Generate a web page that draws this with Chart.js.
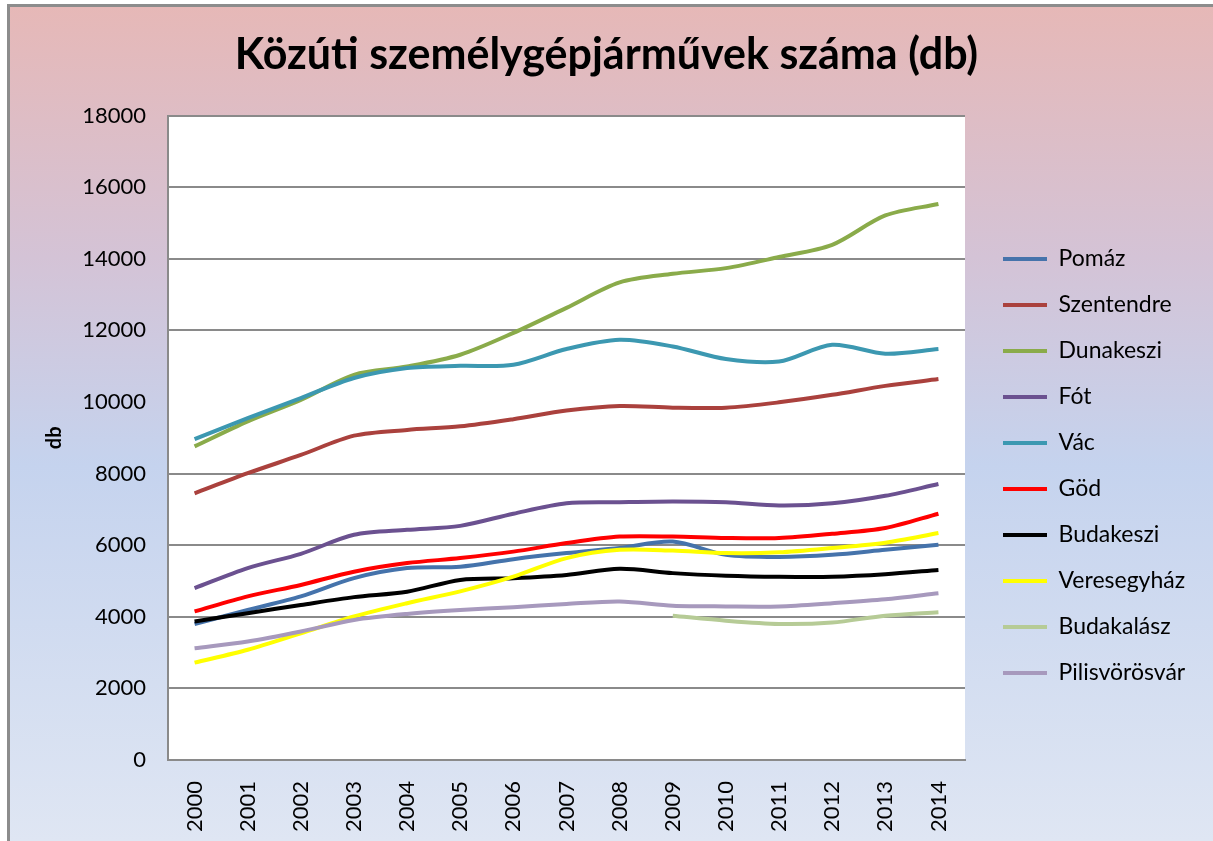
<!DOCTYPE html>
<html lang="hu">
<head>
<meta charset="utf-8">
<title>Közúti személygépjárművek száma</title>
<script src="https://cdn.jsdelivr.net/npm/chart.js@4.4.1/dist/chart.umd.min.js"></script>
<style>
  html, body { margin: 0; padding: 0; background: #fff; }
  #keret {
    position: absolute; left: 7px; top: 4px; right: 0; bottom: 0;
    border-left: 3px solid #8c8c8c; border-top: 3px solid #8c8c8c;
    background: linear-gradient(180deg, #e6b8b7 0%, #d4c3d6 30%, #c5d3ee 55%, #dfe6f3 100%);
  }
  #doboz { position: absolute; left: 0; top: 0; width: 1213px; height: 841px; }
</style>
</head>
<body>
<div id="keret"></div>
<div id="doboz"><canvas id="grafikon"></canvas></div>
<script>
// évek és értékek (db)
const evek = ['2000', '2001', '2002', '2003', '2004', '2005', '2006', '2007', '2008', '2009', '2010', '2011', '2012', '2013', '2014'];
const pomaz = [3800, 4190, 4570, 5080, 5360, 5400, 5610, 5780, 5920, 6100, 5730, 5670, 5730, 5870, 6010];
const szentendre = [7450, 8010, 8520, 9060, 9220, 9320, 9520, 9760, 9890, 9840, 9840, 9990, 10200, 10450, 10640];
const dunakeszi = [8760, 9460, 10060, 10760, 10990, 11320, 11930, 12630, 13340, 13580, 13740, 14050, 14390, 15210, 15530];
const fot = [4800, 5360, 5760, 6290, 6430, 6540, 6880, 7170, 7200, 7220, 7200, 7110, 7170, 7380, 7710];
const vac = [8960, 9550, 10110, 10670, 10950, 11010, 11040, 11480, 11740, 11550, 11200, 11130, 11600, 11350, 11480];
const god = [4150, 4570, 4890, 5260, 5500, 5640, 5820, 6060, 6240, 6240, 6200, 6200, 6320, 6480, 6880];
const budakeszi = [3870, 4100, 4330, 4550, 4700, 5030, 5080, 5170, 5340, 5220, 5150, 5120, 5120, 5190, 5310];
const veresegyhaz = [2720, 3080, 3540, 4010, 4380, 4710, 5120, 5640, 5870, 5850, 5780, 5800, 5920, 6070, 6340];
const budakalasz = [null, null, null, null, null, null, null, null, null, 4030, 3890, 3800, 3840, 4030, 4130];
const pilisvorosvar = [3120, 3310, 3590, 3910, 4080, 4190, 4270, 4360, 4430, 4310, 4290, 4290, 4380, 4490, 4660];

const yTicks = [0, 2000, 4000, 6000, 8000, 10000, 12000, 14000, 16000, 18000];

const sorozatok = [
  { nev: 'Pomáz', adat: pomaz, szin: '#4573ab' },
  { nev: 'Szentendre', adat: szentendre, szin: '#aa413d' },
  { nev: 'Dunakeszi', adat: dunakeszi, szin: '#8aab4a' },
  { nev: 'Fót', adat: fot, szin: '#6b5190' },
  { nev: 'Vác', adat: vac, szin: '#3c98b1' },
  { nev: 'Göd', adat: god, szin: '#ff0000' },
  { nev: 'Budakeszi', adat: budakeszi, szin: '#000000' },
  { nev: 'Veresegyház', adat: veresegyhaz, szin: '#ffff00' },
  { nev: 'Budakalász', adat: budakalasz, szin: '#b6cb96' },
  { nev: 'Pilisvörösvár', adat: pilisvorosvar, szin: '#a799bd' }
];

const racsSzin = '#8a8a8a';
const jelmagyarazatSzelesseg = 233;

// fehér rajzterület a vonalak alatt
const rajzHatter = {
  id: 'rajzHatter',
  beforeDraw(chart) {
    const { ctx, chartArea } = chart;
    ctx.save();
    ctx.fillStyle = '#ffffff';
    ctx.fillRect(chartArea.left, chartArea.top, chartArea.right - chartArea.left, chartArea.bottom - chartArea.top);
    ctx.restore();
  }
};

// a jelmagyarázat fix szélességet kap, hogy a szöveg ne vágódjon le
const jelmagyarazatSzeles = {
  id: 'jelmagyarazatSzeles',
  beforeLayout(chart) {
    const lg = chart.legend;
    if (lg && !lg._fixSzeles) {
      const eredeti = lg.fit.bind(lg);
      lg.fit = function () { eredeti(); this.width = jelmagyarazatSzelesseg; };
      lg._fixSzeles = true;
    }
  }
};

Chart.defaults.font.family = 'Lato, "Open Sans", sans-serif';
Chart.defaults.color = '#000';

new Chart(document.getElementById('grafikon'), {
  type: 'line',
  data: {
    labels: evek,
    datasets: sorozatok.map((s, i) => ({
      label: s.nev,
      data: s.adat,
      borderColor: s.szin,
      backgroundColor: s.szin,
      borderWidth: 4,
      pointRadius: 0,
      tension: 0.3,
      spanGaps: false,
      order: sorozatok.length - i
    }))
  },
  options: {
    responsive: true,
    maintainAspectRatio: false,
    animation: false,
    layout: { padding: 0 },
    plugins: {
      title: {
        display: true,
        text: 'Közúti személygépjárművek száma (db)',
        font: { size: 43, weight: 'bold' },
        color: '#000',
        padding: { top: 29, bottom: 35 }
      },
      legend: {
        position: 'right',
        fullSize: false,
        reverse: true,
        title: { display: true, text: ' ', font: { size: 12 }, padding: { top: 42, bottom: 0 } },
        labels: {
          boxWidth: 44,
          boxHeight: 4,
          padding: 23,
          font: { size: 23 },
          color: '#000',
          generateLabels(chart) {
            return Chart.defaults.plugins.legend.labels.generateLabels(chart).map(it => ({ ...it, lineWidth: 0 }));
          }
        }
      },
      tooltip: { enabled: false }
    },
    scales: {
      x: {
        offset: true,
        grid: { display: false },
        border: { display: true, color: racsSzin, width: 2 },
        ticks: { minRotation: 90, maxRotation: 90, padding: 13, font: { size: 22 } },
        afterFit(scale) { scale.height = 81; }
      },
      y: {
        min: 0,
        max: 18000,
        afterBuildTicks(scale) { scale.ticks = yTicks.map(v => ({ value: v })); },
        grid: {
          drawTicks: false,
          lineWidth: 2,
          color: c => (c.tick && c.tick.value === 10000 ? 'rgba(0,0,0,0)' : racsSzin)
        },
        border: { display: true, color: racsSzin, width: 2 },
        ticks: { padding: 22, font: { size: 22 }, callback: v => String(v) },
        title: { display: true, text: 'db', font: { size: 20, weight: 'bold' }, padding: { top: 43, bottom: 0 } },
        afterFit(scale) { scale.width = 168; }
      },
      jobb: {
        type: 'linear',
        position: 'right',
        display: true,
        grid: { display: false },
        border: { display: false },
        ticks: { display: false },
        afterFit(scale) { scale.width = 15; }
      }
    }
  },
  plugins: [rajzHatter, jelmagyarazatSzeles]
});
</script>
</body>
</html>
